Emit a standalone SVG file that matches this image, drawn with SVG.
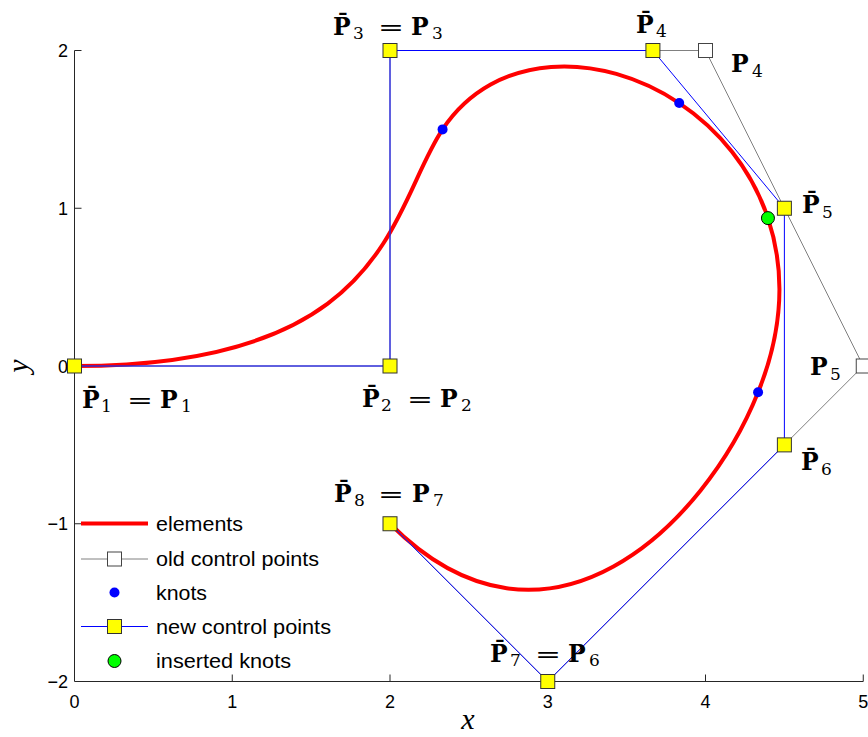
<svg xmlns="http://www.w3.org/2000/svg" width="868" height="737" viewBox="0 0 868 737">
<style>
.ax{stroke:#262626;stroke-width:1;fill:none}
.tk{font-family:"Liberation Sans",Arial,sans-serif;font-size:18px;fill:#000}
.tx{text-anchor:middle}
.ty{text-anchor:end}
.lg{font-family:"Liberation Sans",Arial,sans-serif;font-size:20px;fill:#000}
.P{font-family:"DejaVu Serif",serif;font-weight:bold;font-size:23.5px;fill:#000}
.s{font-family:"DejaVu Serif",serif;font-size:17px;fill:#000}
.eq{font-family:"DejaVu Serif",serif;font-size:22px;fill:#000;text-anchor:middle}
.lab{font-family:"Liberation Serif","Times New Roman",serif;font-style:italic;font-size:30px;fill:#000;text-anchor:middle}
.el{stroke:#ff0000;stroke-width:4;fill:none}
.old{stroke:#808080;stroke-width:1;fill:none}
.new{stroke:#0000ff;stroke-width:1;fill:none}
.ysq{fill:#ffff00;stroke:#333;stroke-width:1}
.wsq{fill:#ffffff;stroke:#444;stroke-width:1}
.knot{fill:#0000ff}
.ins{fill:#00ff00;stroke:#000;stroke-width:1}
</style>
<defs>
<rect id="ysq" class="ysq" x="-7" y="-7" width="14" height="14"/>
<rect id="wsq" class="wsq" x="-7" y="-7" width="14" height="14"/>
</defs>
<rect width="868" height="737" fill="#fff"/>

<g id="axes">
<path class="ax" d="M74.5,50.5 V681.5 H863.25"/>
<path class="ax" d="M74.5,50.5 h7 M74.5,208.25 h7 M74.5,366 h7 M74.5,523.75 h7 M232.25,681.5 v-7 M390,681.5 v-7 M547.75,681.5 v-7 M705.5,681.5 v-7 M863.25,681.5 v-7"/>
<text class="tk ty" x="68" y="57">2</text>
<text class="tk ty" x="68" y="215">1</text>
<text class="tk ty" x="68" y="373">0</text>
<text class="tk ty" x="68" y="530">−1</text>
<text class="tk ty" x="68" y="688">−2</text>
<text class="tk tx" x="74.5" y="708">0</text>
<text class="tk tx" x="232.25" y="708">1</text>
<text class="tk tx" x="390" y="708">2</text>
<text class="tk tx" x="547.75" y="708">3</text>
<text class="tk tx" x="705.5" y="708">4</text>
<text class="tk tx" x="863.25" y="708">5</text>
<text class="lab" x="468" y="729">x</text>
<text class="lab" transform="translate(28,366) rotate(-90)">y</text>
</g>

<g id="connectors">
<path id="elements" class="el" d="M74.5,366 C390,366 390,208.25 442.58,129.38 C495.17,50.5 600.33,50.5 679.21,103.08 C758.08,155.67 810.67,260.83 758.08,392.29 C705.5,523.75 547.75,681.5 390,523.75"/>
<polyline id="old-polygon" class="old" points="74.5,366 390,366 390,50.5 705.5,50.5 863.25,366 547.75,681.5 390,523.75"/>
<g id="knots">
<circle class="knot" cx="442.58" cy="129.38" r="5"/>
<circle class="knot" cx="679.21" cy="103.08" r="5"/>
<circle class="knot" cx="758.08" cy="392.29" r="5"/>
</g>
<polyline id="new-polygon" class="new" points="74.5,366 390,366 390,50.5 652.92,50.5 784.38,208.25 784.38,444.88 547.75,681.5 390,523.75"/>
</g>

<g id="oldP4">
<use href="#wsq" x="705.5" y="50.5"/>
<text class="P" x="731" y="72">P</text><text class="s" x="752" y="77">4</text>
</g>
<g id="oldP5">
<use href="#wsq" x="863.25" y="366"/>
<text class="P" x="810" y="375">P</text><text class="s" x="830" y="380">5</text>
</g>

<g id="Pbar1">
<use href="#ysq" x="74.5" y="366"/>
<text class="P" x="82" y="408">P̄</text><text class="s" x="101" y="412">1</text>
<text class="eq" x="140" y="408" textLength="26" lengthAdjust="spacingAndGlyphs">=</text>
<text class="P" x="160" y="408">P</text><text class="s" x="181" y="412">1</text>
</g>
<g id="Pbar2">
<use href="#ysq" x="390" y="366"/>
<text class="P" x="362" y="407">P̄</text><text class="s" x="381" y="411">2</text>
<text class="eq" x="420" y="407" textLength="26" lengthAdjust="spacingAndGlyphs">=</text>
<text class="P" x="440" y="407">P</text><text class="s" x="461" y="411">2</text>
</g>
<g id="Pbar3">
<use href="#ysq" x="390" y="50.5"/>
<text class="P" x="333" y="35">P̄</text><text class="s" x="353" y="39">3</text>
<text class="eq" x="391" y="35" textLength="26" lengthAdjust="spacingAndGlyphs">=</text>
<text class="P" x="411" y="35">P</text><text class="s" x="432" y="39">3</text>
</g>
<g id="Pbar4">
<use href="#ysq" x="652.92" y="50.5"/>
<text class="P" x="636" y="33">P̄</text><text class="s" x="656" y="37">4</text>
</g>
<g id="Pbar5">
<use href="#ysq" x="784.38" y="208.25"/>
<text class="P" x="802" y="213">P̄</text><text class="s" x="822" y="218">5</text>
</g>
<g id="Pbar6">
<use href="#ysq" x="784.38" y="444.88"/>
<text class="P" x="801" y="470">P̄</text><text class="s" x="821" y="475">6</text>
</g>
<g id="Pbar7">
<use href="#ysq" x="547.75" y="681.5"/>
<text class="P" x="490" y="662">P̄</text><text class="s" x="510" y="666">7</text>
<text class="eq" x="548" y="662" textLength="26" lengthAdjust="spacingAndGlyphs">=</text>
<text class="P" x="568" y="662">P</text><text class="s" x="589" y="666">6</text>
</g>
<g id="Pbar8">
<use href="#ysq" x="390" y="523.75"/>
<text class="P" x="334" y="502">P̄</text><text class="s" x="354" y="506">8</text>
<text class="eq" x="391" y="502" textLength="26" lengthAdjust="spacingAndGlyphs">=</text>
<text class="P" x="412" y="502">P</text><text class="s" x="433" y="506">7</text>
</g>

<g id="inserted-knot">
<circle class="ins" cx="767.94" cy="218.11" r="6.5"/>
</g>

<g id="legend">
<line x1="81" y1="523.5" x2="148" y2="523.5" class="el"/>
<text class="lg" x="156" y="531" textLength="87" lengthAdjust="spacingAndGlyphs">elements</text>
<line x1="81" y1="559" x2="148" y2="559" class="old"/>
<use href="#wsq" x="114.5" y="559"/>
<text class="lg" x="156" y="566" textLength="163" lengthAdjust="spacingAndGlyphs">old control points</text>
<circle class="knot" cx="114.5" cy="592.5" r="5"/>
<text class="lg" x="156" y="600" textLength="51" lengthAdjust="spacingAndGlyphs">knots</text>
<line x1="81" y1="626.5" x2="148" y2="626.5" class="new"/>
<use href="#ysq" x="114.5" y="626.5"/>
<text class="lg" x="156" y="634" textLength="175" lengthAdjust="spacingAndGlyphs">new control points</text>
<circle class="ins" cx="114.5" cy="661" r="6.5"/>
<text class="lg" x="156" y="668" textLength="135" lengthAdjust="spacingAndGlyphs">inserted knots</text>
</g>
</svg>
